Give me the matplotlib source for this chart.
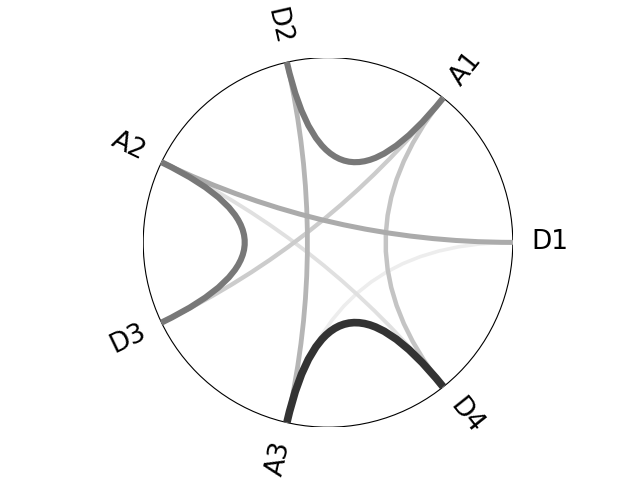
import numpy as np
from matplotlib import pyplot as plt
from matplotlib.path import Path
from matplotlib.patches import PathPatch, Circle

# nodes placed around the circle, counter-clockwise from the right
nodes = ['D1', 'A1', 'D2', 'A2', 'D3', 'A3', 'D4']

# edges (source, target, weight)
edge_from = ['A3', 'D2', 'A2', 'A2', 'D2', 'A1', 'A1', 'A2', 'D1']
edge_to = ['D4', 'A1', 'D3', 'D1', 'A3', 'D4', 'D3', 'D4', 'A3']
edge_weight = [0.80, 0.53, 0.53, 0.33, 0.29, 0.23, 0.20, 0.12, 0.07]

n = len(nodes)
ang = {name: 2*np.pi*i/n for i, name in enumerate(nodes)}

fig, ax = plt.subplots(figsize=(6.4, 4.8), dpi=100)
ax.set_aspect('equal')
ax.set_xlim(-1, 1)
ax.set_ylim(-1, 1)
ax.axis('off')

ax.add_patch(Circle((0, 0), 1, fill=False, edgecolor='k', lw=0.8, zorder=1))

# draw lightest edges first so the heavy ones sit on top
order = np.argsort(edge_weight)
for k in order:
    a0 = ang[edge_from[k]]
    a1 = ang[edge_to[k]]
    w = edge_weight[k]
    verts = [(np.cos(a0), np.sin(a0)), (0, 0), (np.cos(a1), np.sin(a1))]
    path = Path(verts, [Path.MOVETO, Path.CURVE3, Path.CURVE3])
    ax.add_patch(PathPatch(path, fill=False, edgecolor=str(1-w),
                           lw=2.3+4*w, capstyle='butt', zorder=2))

for name in nodes:
    t = np.degrees(ang[name])
    rot = t if (t <= 90 or t >= 270) else t-180
    ax.text(1.2*np.cos(ang[name]), 1.2*np.sin(ang[name]), name,
            rotation=rot, rotation_mode='anchor', ha='center', va='center',
            fontsize=19, clip_on=False)

plt.savefig('out.png')
